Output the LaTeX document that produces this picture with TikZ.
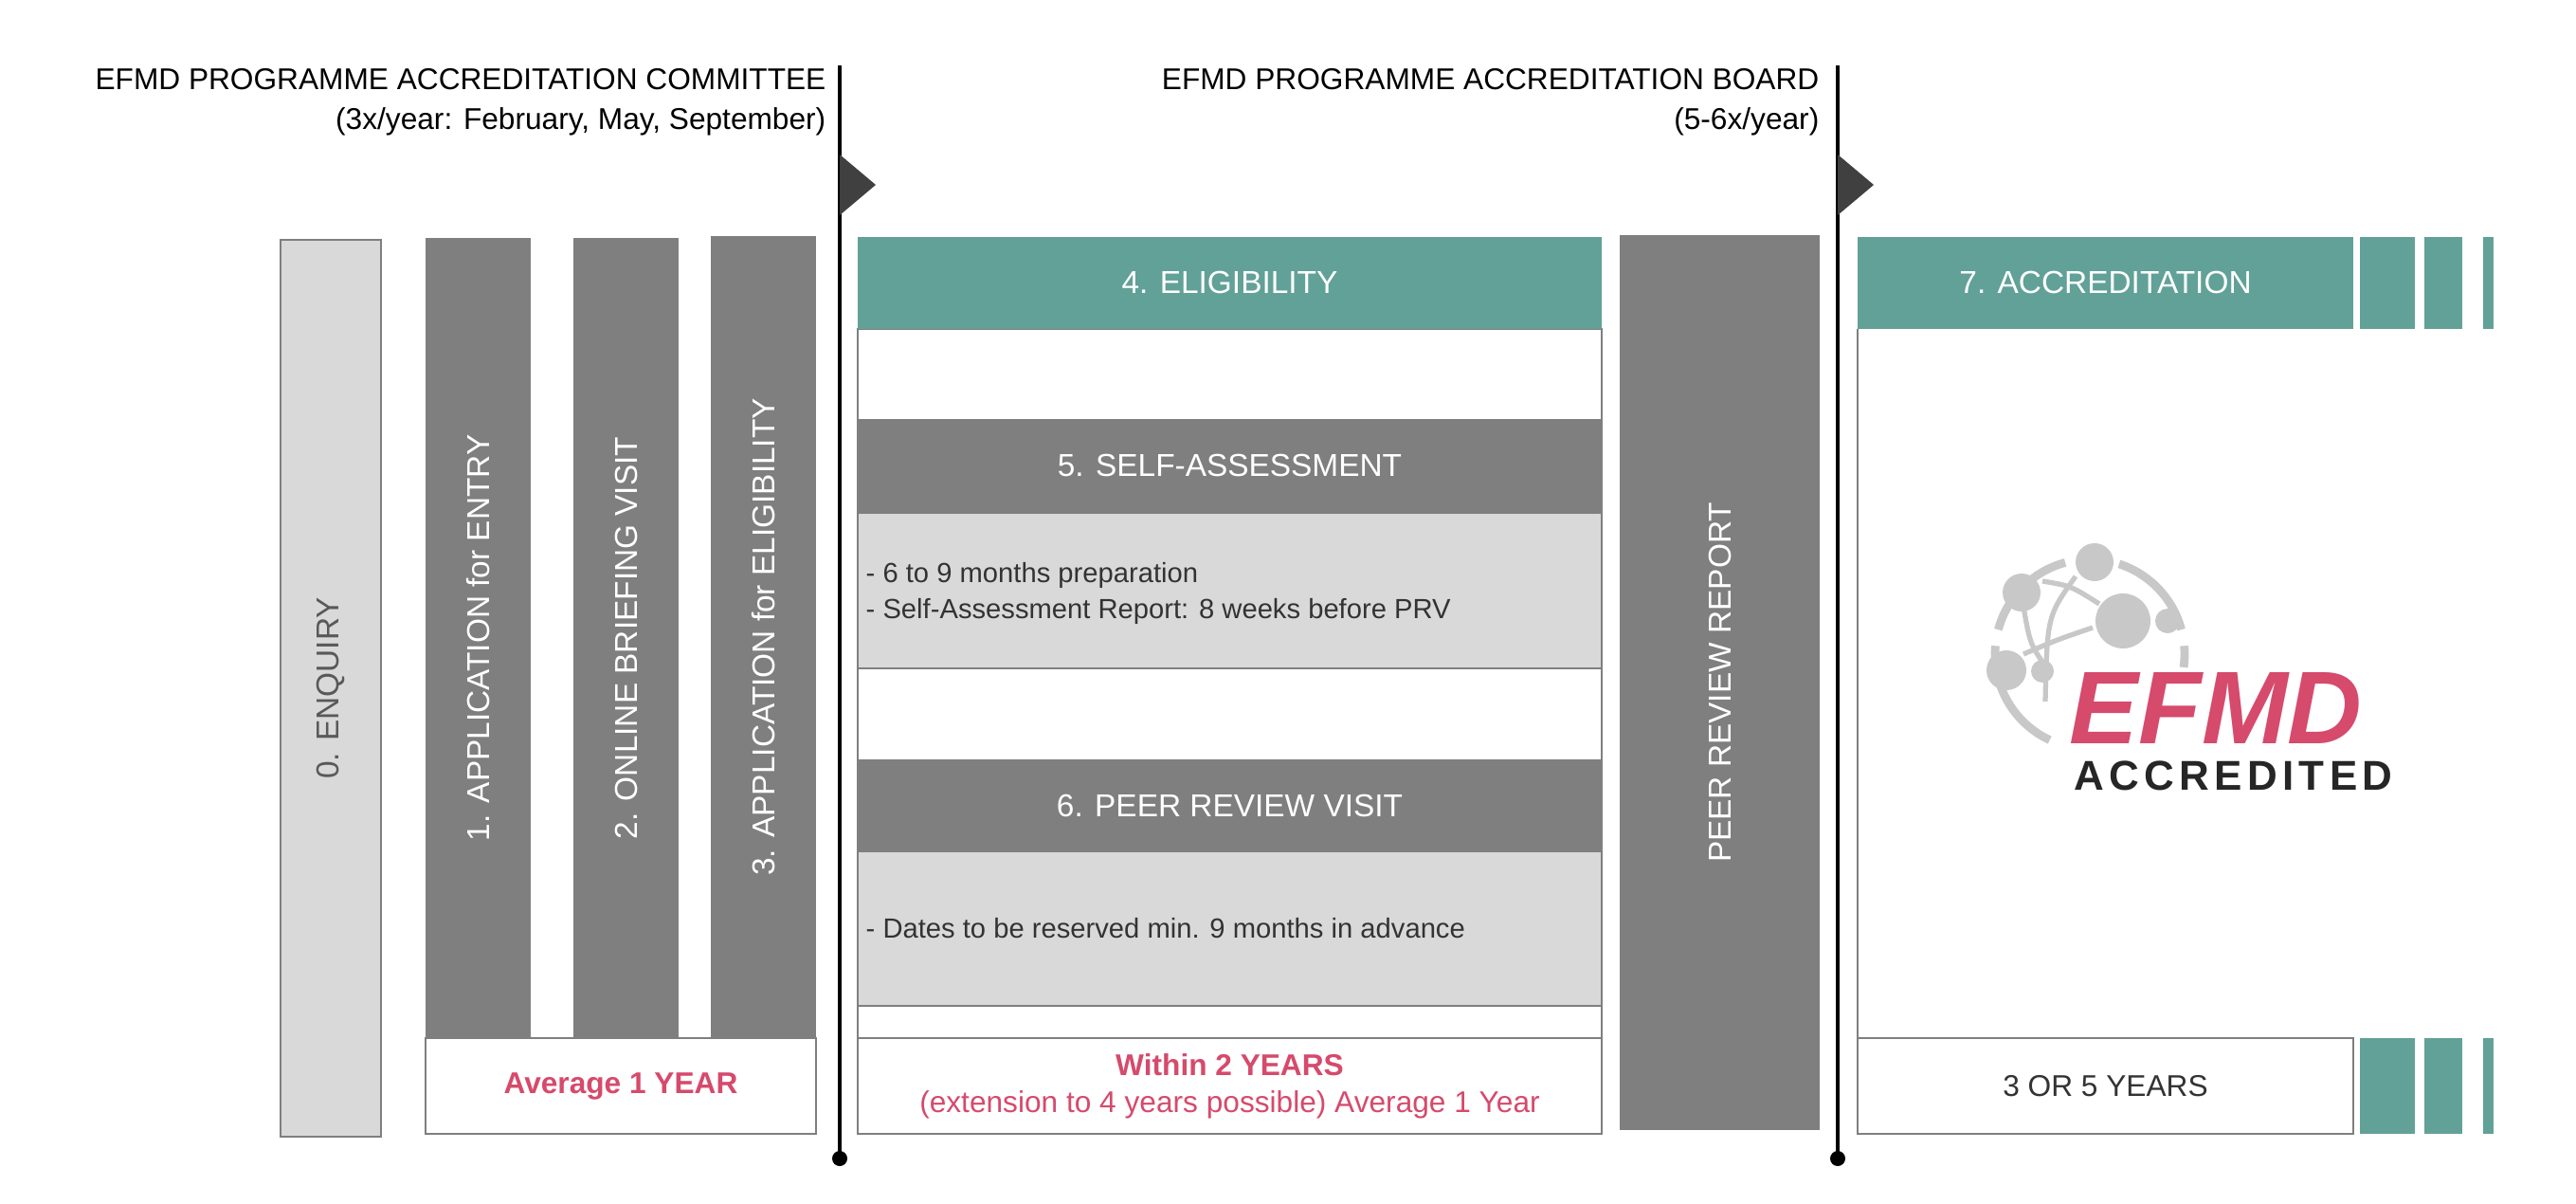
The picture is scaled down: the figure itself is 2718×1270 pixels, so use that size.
\documentclass[tikz,border=0pt]{standalone}
\usepackage{fontspec}
\setmainfont{Liberation Sans}
\usetikzlibrary{positioning}
\definecolor{efteal}{HTML}{62A197}
\definecolor{efdark}{HTML}{7F7F7F}
\definecolor{eflight}{HTML}{D9D9D9}
\definecolor{efpink}{HTML}{D64A6C}
\definecolor{efflag}{HTML}{404040}
\definecolor{eflogo}{HTML}{C8C8C8}
\tikzset{
    darkbox/.style={fill=efdark,text=white,inner sep=0pt,font=\fontsize{9.5}{11}\selectfont},
    tealbox/.style={fill=efteal,text=white,inner sep=0pt,font=\fontsize{9.5}{11}\selectfont},
    lightbox/.style={fill=eflight,draw=efdark,line width=0.6pt,inner sep=0pt},
    whitebox/.style={fill=white,draw=efdark,line width=0.6pt,inner sep=0pt,align=center},
    note/.style={font=\fontsize{8.3}{11}\selectfont,text=black!80,align=left,anchor=west,inner sep=0pt},
    head/.style={font=\fontsize{9}{12}\selectfont,align=right,anchor=north east,inner sep=0pt},
    flag/.style={fill=efflag}
}
\begin{document}
\begin{tikzpicture}[x=0.01cm,y=-0.01cm]
\useasboundingbox (0,0) rectangle (2718,1270);

% headers
\node[head] (comm) at (872,72) {EFMD PROGRAMME ACCREDITATION COMMITTEE\\(3x/year: February, May, September)};
\node[head] (board) at (1920,72) {EFMD PROGRAMME ACCREDITATION BOARD\\(5-6x/year)};

% time lines
\coordinate (l1t) at (886,69);
\coordinate (l1b) at (886,1222);
\coordinate (l2t) at (1939,69);
\coordinate (l2b) at (1939,1222);
\draw[line width=1pt] (l1t) -- (l1b);
\draw[line width=1pt] (l2t) -- (l2b);
\fill (l1b) circle (8);
\fill (l2b) circle (8);
\fill[flag] (886,163) -- (924,195) -- (886,227) -- cycle;
\fill[flag] (1939,163) -- (1977,195) -- (1939,227) -- cycle;

% phase before eligibility
\node[lightbox,minimum width=1.06cm,minimum height=9.46cm] (enq) at (349,726) {};
\node[rotate=90,font=\fontsize{9.5}{11}\selectfont,text=black!65] (enqtext) at (enq) {0. ENQUIRY};
\node[darkbox,rotate=90,minimum width=8.44cm,minimum height=1.11cm] (app) at (504.5,673) {1. APPLICATION for ENTRY};
\node[darkbox,rotate=90,minimum width=8.44cm,minimum height=1.11cm] (brief) at (660.5,673) {2. ONLINE BRIEFING VISIT};
\node[darkbox,rotate=90,minimum width=8.46cm,minimum height=1.11cm] (appel) at (805.5,672) {3. APPLICATION for ELIGIBILITY};
\node[whitebox,minimum width=4.12cm,minimum height=1.01cm,text=efpink,font=\fontsize{9}{11}\selectfont\bfseries] (avg) at (655,1145.5) {Average 1 YEAR};

% eligibility phase
\draw[efdark,line width=0.6pt] (905,347) rectangle (1690,1196);
\node[tealbox,minimum width=7.85cm,minimum height=0.97cm] (elig) at (1297.5,298.5) {4. ELIGIBILITY};
\node[darkbox,minimum width=7.85cm,minimum height=0.99cm] (sa) at (1297.5,491.5) {5. SELF-ASSESSMENT};
\node[lightbox,minimum width=7.85cm,minimum height=1.64cm] (sabox) at (1297.5,623) {};
\node[note] (satext) at (913,626) {- 6 to 9 months preparation\\- Self-Assessment Report: 8 weeks before PRV};
\node[darkbox,minimum width=7.85cm,minimum height=0.97cm] (prv) at (1297.5,849.5) {6. PEER REVIEW VISIT};
\node[lightbox,minimum width=7.85cm,minimum height=1.63cm] (prvbox) at (1297.5,979.5) {};
\node[note] (prvtext) at (913,979.5) {- Dates to be reserved min. 9 months in advance};
\node[whitebox,minimum width=7.85cm,minimum height=1.01cm,text=efpink,font=\fontsize{9}{11}\selectfont] (within) at (1297.5,1145.5) {\textbf{Within 2 YEARS}\\(extension to 4 years possible) Average 1 Year};
\node[darkbox,rotate=90,minimum width=9.44cm,minimum height=2.11cm] (peer) at (1814.5,720) {PEER REVIEW REPORT};

% accreditation phase
\draw[efdark,line width=0.6pt] (1960,347) -- (1960,1095);
\node[tealbox,minimum width=5.23cm,minimum height=0.97cm] (acc) at (2221.5,298.5) {7. ACCREDITATION};
\node[whitebox,minimum width=5.23cm,minimum height=1.01cm,font=\fontsize{9}{11}\selectfont,text=black!80] (years) at (2221.5,1145.5) {3 OR 5 YEARS};
\foreach \xa/\xb in {2490/2548,2558/2598,2620/2631}{
  \fill[efteal] (\xa,250) rectangle (\xb,347);
  \fill[efteal] (\xa,1095) rectangle (\xb,1196);
}

% logo
\coordinate (globe) at (2205,690);
\begin{scope}[eflogo,line width=2.5pt]
\draw (globe) ++(-105:100) arc[start angle=-105,end angle=-165,radius=100];
\draw (globe) ++(-175:100) arc[start angle=-175,end angle=-245,radius=100];
\draw (globe) ++(-72:100) arc[start angle=-72,end angle=-15,radius=100];
\draw (globe) ++(-5:100) arc[start angle=-5,end angle=8,radius=100];
\draw[line width=1.5pt] (2135,640) .. controls (2142,680) .. (2162,708);
\draw[line width=1.5pt] (2155,613) .. controls (2185,618) .. (2215,637);
\draw[line width=1.5pt] (2135,690) .. controls (2170,675) .. (2208,662);
\draw[line width=1.5pt] (2190,608) .. controls (2160,650) .. (2158,740);
\fill (2210,593) circle (20);
\fill (2133,625) circle (20);
\fill (2240,655) circle (29);
\fill (2287,655) circle (13);
\fill (2117,707) circle (21);
\fill (2155,708) circle (12);
\end{scope}
\node[text=efpink,font=\fontsize{31}{31}\selectfont\bfseries\itshape,inner sep=0pt,anchor=south west] (logotext) at (2183,785) {EFMD};
\node[text=black!85,font=\fontsize{12.5}{13}\selectfont\bfseries,inner sep=0pt,anchor=south west] (logosub) at (2188,835) {A\hspace{1.5pt}C\hspace{1.5pt}C\hspace{1.5pt}R\hspace{1.5pt}E\hspace{1.5pt}D\hspace{1.5pt}I\hspace{1.5pt}T\hspace{1.5pt}E\hspace{1.5pt}D};
\end{tikzpicture}
\end{document}
